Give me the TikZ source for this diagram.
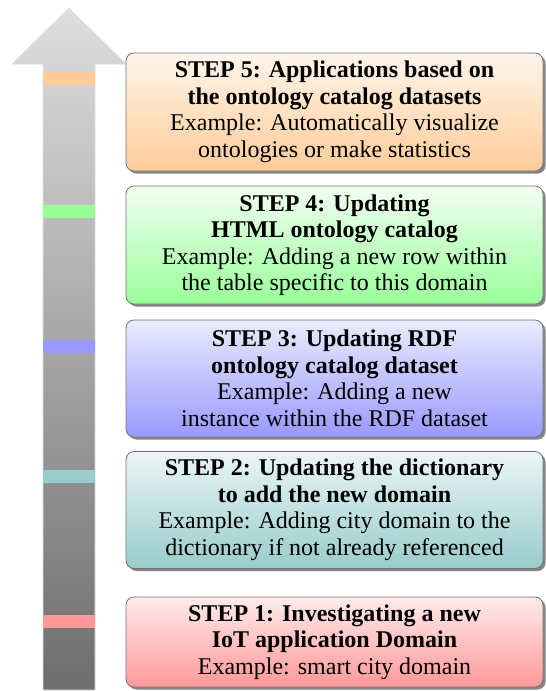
\documentclass[tikz,border=0pt]{standalone}
\usepackage{fontspec}
\setmainfont{Liberation Serif}
\usetikzlibrary{shadows}
\begin{document}
\begin{tikzpicture}[x=1pt,y=-1pt,
  stepbox/.style={rectangle, rounded corners=8pt, draw=black!55, line width=0.8pt,
    minimum width=417pt, align=center, inner sep=1pt,
    font=\fontsize{24}{26.5}\selectfont,
    drop shadow={shadow xshift=2.5pt, shadow yshift=-2.5pt, fill=black!60, opacity=0.8}},
  band/.style={rectangle, minimum width=52pt, minimum height=13pt, inner sep=0pt, draw=none}]
\useasboundingbox (0,0) rectangle (546,691);
% big arrow
\shade[top color=black!13, bottom color=black!57, draw=black!12, line width=0.6pt]
  (43,690) -- (43,64) -- (12,64) -- (69,8) -- (126,64) -- (95,64) -- (95,690) -- cycle;
% colour bands
\node[band, fill=orange!40] (b5) at (69,78.5) {};
\node[band, fill=green!40] (b4) at (69,211.5) {};
\node[band, fill=blue!40] (b3) at (69,346.5) {};
\node[band, fill=teal!40] (b2) at (69,476.5) {};
\node[band, fill=red!40] (b1) at (69,621.5) {};
% steps
\node[stepbox, minimum height=118pt, top color=orange!8, bottom color=orange!40] (s5) at (334.5,112)
  {\textbf{STEP 5: Applications based on}\\\textbf{the ontology catalog datasets}\\Example: Automatically visualize\\ontologies or make statistics};
\node[stepbox, minimum height=118pt, top color=green!5, bottom color=green!40] (s4) at (334.5,245)
  {\textbf{STEP 4: Updating}\\\textbf{HTML ontology catalog}\\Example: Adding a new row within\\the table specific to this domain};
\node[stepbox, minimum height=117pt, top color=blue!8, bottom color=blue!40] (s3) at (334.5,378.5)
  {\textbf{STEP 3: Updating RDF}\\\textbf{ontology catalog dataset}\\Example: Adding a new\\instance within the RDF dataset};
\node[stepbox, minimum height=117pt, top color=teal!8, bottom color=teal!40] (s2) at (334.5,510)
  {\textbf{STEP 2: Updating the dictionary}\\\textbf{to add the new domain}\\Example: Adding city domain to the\\dictionary if not already referenced};
\node[stepbox, minimum height=90pt, top color=red!8, bottom color=red!40] (s1) at (334.5,642)
  {\textbf{STEP 1: Investigating a new}\\\textbf{IoT application Domain}\\Example: smart city domain};
\end{tikzpicture}
\end{document}
